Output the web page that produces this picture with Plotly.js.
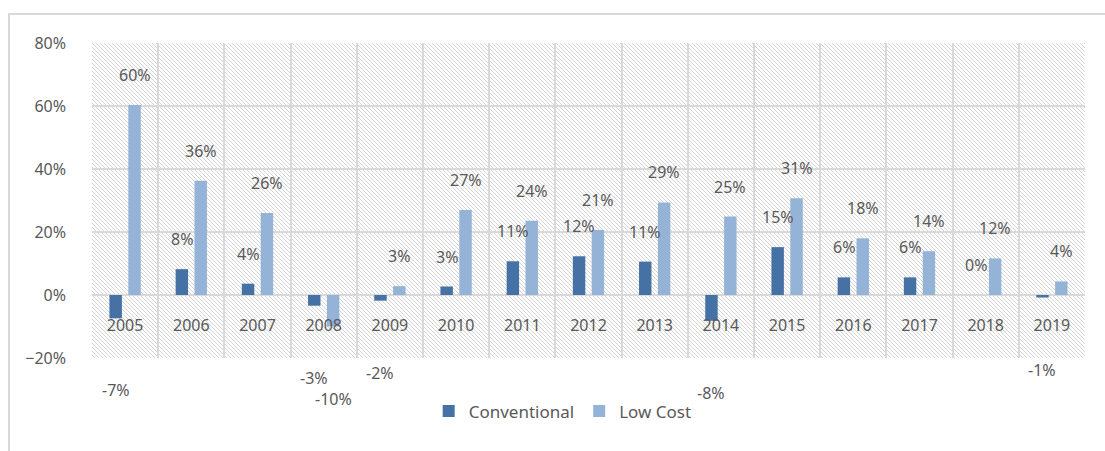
<!DOCTYPE html>
<html>
<head>
<meta charset="utf-8">
<script src="https://cdn.plot.ly/plotly-3.0.1.min.js"></script>
<style>
  html, body { margin: 0; padding: 0; background: #ffffff; }
  #wrap { position: relative; width: 1105px; height: 451px; overflow: hidden; background: #ffffff; }
  #frame { position: absolute; left: 8px; top: 13px; width: 1110px; height: 460px; border: 2px solid #d9d9d9; box-sizing: border-box; }
  #hatch { position: absolute; left: 92px; top: 43px; width: 993px; height: 315px;
    background-image: url("data:image/svg+xml;utf8,<svg xmlns='http://www.w3.org/2000/svg' width='4' height='4' shape-rendering='crispEdges'><rect x='0' y='0' width='1' height='1' fill='%23d4d4d4'/><rect x='1' y='1' width='1' height='1' fill='%23d4d4d4'/><rect x='2' y='2' width='1' height='1' fill='%23d4d4d4'/><rect x='3' y='3' width='1' height='1' fill='%23d4d4d4'/></svg>");
    background-size: 4px 4px; background-repeat: repeat; }
  #chart { position: absolute; left: 0; top: 0; width: 1105px; height: 451px; }
</style>
</head>
<body>
<div id="wrap">
  <div id="frame"></div>
  <div id="hatch"></div>
  <div id="chart"></div>
</div>
<script>
const years = ['2005','2006','2007','2008','2009','2010','2011','2012','2013','2014','2015','2016','2017','2018','2019'];
const conventional = [-7.4, 8.2, 3.6, -3.4, -1.8, 2.7, 10.7, 12.3, 10.6, -8.2, 15.2, 5.6, 5.6, 0, -0.8];
const lowCost = [60.3, 36.3, 26, -10, 2.8, 27, 23.6, 20.6, 29.4, 24.9, 30.7, 18, 13.9, 11.6, 4.3];
const seriesNames = ['Conventional', 'Low Cost'];

const txtColor = '#595959';
const font = {family: 'Noto Sans, Open Sans, sans-serif', size: 16, color: txtColor};

const traces = [
  {type: 'bar', name: seriesNames[0], x: years, y: conventional, marker: {color: '#4571a5'}, hoverinfo: 'skip'},
  {type: 'bar', name: seriesNames[1], x: years, y: lowCost, marker: {color: '#95b3d7'}, hoverinfo: 'skip'}
];

const annotations = [];
function addLabels(vals, shiftX) {
  vals.forEach((v, i) => {
    annotations.push({
      x: i, y: v, xref: 'x', yref: 'y',
      text: Math.round(v) + '%', showarrow: false,
      xanchor: 'center', yanchor: 'middle',
      xshift: shiftX, yshift: v >= 0 ? 30 : -72,
      font: font
    });
  });
}
addLabels(conventional, -9.5);
addLabels(lowCost, 9.5);

const layout = {
  width: 1105, height: 451,
  margin: {l: 92, r: 20, t: 43, b: 93},
  paper_bgcolor: 'rgba(0,0,0,0)',
  plot_bgcolor: 'rgba(0,0,0,0)',
  font: font,
  barmode: 'group',
  bargap: 0.43,
  bargroupgap: 0.34,
  showlegend: true,
  legend: {orientation: 'h', x: 0.474, xanchor: 'center', y: -0.17, yanchor: 'middle',
           font: {family: font.family, size: 17, color: txtColor}, bgcolor: 'rgba(0,0,0,0)', itemclick: false},
  xaxis: {
    type: 'category', anchor: 'free', position: 0.2, range: [-0.5, years.length - 0.5],
    tickson: 'boundaries', showgrid: true, gridcolor: '#d9d9d9', gridwidth: 2,
    ticks: '', showline: false, zeroline: false, tickangle: 0,
    ticklabelstandoff: 19, tickfont: font, fixedrange: true
  },
  yaxis: {
    range: [-20, 80], dtick: 20, ticksuffix: '%',
    showgrid: true, gridcolor: '#d9d9d9', gridwidth: 2,
    zeroline: true, zerolinecolor: '#d9d9d9', zerolinewidth: 2,
    showline: false, ticks: '', ticklabelstandoff: 25, tickfont: font, fixedrange: true
  },
  annotations: annotations
};

Plotly.newPlot('chart', traces, layout, {displayModeBar: false, staticPlot: true});
</script>
</body>
</html>
